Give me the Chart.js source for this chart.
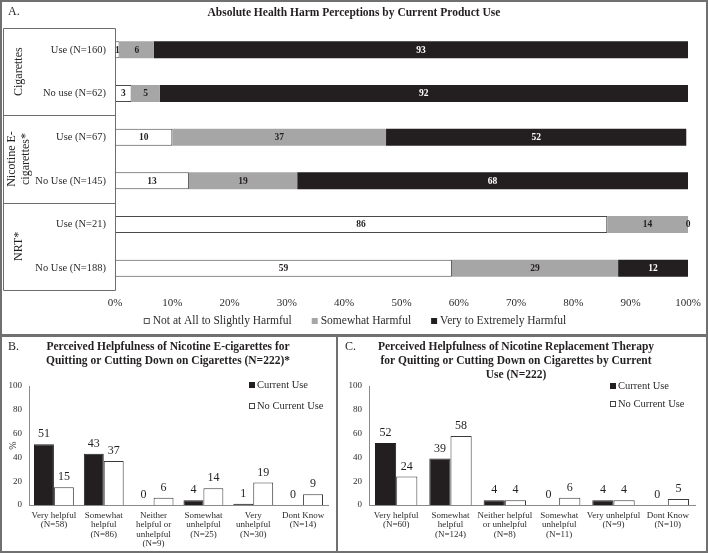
<!DOCTYPE html>
<html><head><meta charset="utf-8">
<script src="https://cdn.jsdelivr.net/npm/chart.js@4/dist/chart.umd.min.js"></script>
<style>
html,body{margin:0;padding:0;background:#fff;}
#wrap{position:relative;width:708px;height:553px;overflow:hidden;background:#fff;}
canvas{position:absolute;}
.frame{position:absolute;box-sizing:border-box;border:2px solid #707070;pointer-events:none;}
</style></head><body>
<div id="wrap">
<canvas id="cA" width="708" height="336" style="left:0;top:0"></canvas>
<canvas id="cB" width="337" height="218" style="left:0;top:335px"></canvas>
<canvas id="cC" width="372" height="218" style="left:336px;top:335px"></canvas>
<div class="frame" style="left:0;top:0;width:708px;height:337px"></div>
<div class="frame" style="left:0;top:334px;width:338px;height:219px"></div>
<div class="frame" style="left:336px;top:334px;width:372px;height:219px"></div>
</div>
<script>
// ---------- Panel A data ----------
const harmTitle = "Absolute Health Harm Perceptions by Current Product Use";
const harmCategories = ["Use (N=160)", "No use (N=62)", "Use (N=67)", "No Use (N=145)", "Use (N=21)", "No Use (N=188)"];
const harmGroups = [["Cigarettes"], ["Nicotine E-", "cigarettes*"], ["NRT*"]];
const harmGroupSpans = [[0, 1], [2, 3], [4, 5]];
const harmSeriesNames = ["Not at All to Slightly Harmful", "Somewhat Harmful", "Very to Extremely Harmful"];
const harmNotAtAll = [0.8, 2.9, 10.0, 12.9, 85.9, 58.8];
const harmSomewhat = [6.0, 4.9, 37.3, 18.9, 14.1, 29.0];
const harmVery = [93.2, 92.2, 52.4, 68.2, 0, 12.2];

// ---------- Panel B data ----------
const ecigTitle = ["Perceived Helpfulness of Nicotine E-cigarettes for", "Quitting or Cutting Down on Cigarettes (N=222)*"];
const ecigCategories = [["Very helpful", "(N=58)"], ["Somewhat", "helpful", "(N=86)"], ["Neither", "helpful or", "unhelpful", "(N=9)"], ["Somewhat", "unhelpful", "(N=25)"], ["Very", "unhelpful", "(N=30)"], ["Dont Know", "(N=14)"]];
const ecigCurrent = [51, 43, 0, 4, 1, 0];
const ecigNoCurrent = [15, 37, 6, 14, 19, 9];

// ---------- Panel C data ----------
const nrtTitle = ["Perceived Helpfulness of Nicotine Replacement Therapy", "for Quitting or Cutting Down on Cigarettes by Current", "Use (N=222)"];
const nrtCategories = [["Very helpful", "(N=60)"], ["Somewhat", "helpful", "(N=124)"], ["Neither helpful", "or unhelpful", "(N=8)"], ["Somewhat", "unhelpful", "(N=11)"], ["Very unhelpful", "(N=9)"], ["Dont Know", "(N=10)"]];
const nrtCurrent = [52, 39, 4, 0, 4, 0];
const nrtNoCurrent = [24, 58, 4, 6, 4, 5];

const useSeriesNames = ["Current Use", "No Current Use"];

const FONT = '"Liberation Serif","Times New Roman",serif';
const INK = '#231f20';
const GRAY = '#a6a6a6';
const TXT = '#2b2b2b';

function txt(ctx, s, x, y, font, color, align, baseline) {
  ctx.font = font; ctx.fillStyle = color;
  ctx.textAlign = align || 'center'; ctx.textBaseline = baseline || 'middle';
  ctx.fillText(s, x, y);
}

// ---------- Panel A ----------
const harmPlugin = {
  id: 'harmDecor',
  afterDraw(chart) {
    const ctx = chart.ctx, a = chart.chartArea, y = chart.scales.y;
    ctx.save();
    txt(ctx, 'A.', 8, 12, '12px ' + FONT, INK, 'left');
    txt(ctx, harmTitle, chart.width / 2, 13, 'bold 11.5px ' + FONT, INK);
    // category box
    ctx.strokeStyle = '#6d6d6d'; ctx.lineWidth = 1;
    const bl = 3.5, top = Math.round(a.top) + 0.5, bot = Math.round(a.bottom) + 0.5, rx = Math.round(a.left) + 0.5;
    ctx.beginPath();
    ctx.moveTo(bl, top); ctx.lineTo(rx, top); ctx.lineTo(rx, bot); ctx.lineTo(bl, bot); ctx.closePath();
    harmGroupSpans.slice(0, -1).forEach(([s, e]) => {
      const yy = Math.round((y.getPixelForValue(e) + y.getPixelForValue(e + 1)) / 2) + 0.5;
      ctx.moveTo(bl, yy); ctx.lineTo(rx, yy);
    });
    ctx.stroke();
    // group labels
    harmGroupSpans.forEach(([s, e], gi) => {
      const cy = (y.getPixelForValue(s) + y.getPixelForValue(e)) / 2;
      const lines = harmGroups[gi];
      ctx.save(); ctx.translate(19, cy); ctx.rotate(-Math.PI / 2);
      lines.forEach((ln, i) => txt(ctx, ln, 0, (i - (lines.length - 1) / 2) * 14, '12px ' + FONT, INK));
      ctx.restore();
    });
    // data labels
    chart.data.datasets.forEach((ds, di) => {
      const meta = chart.getDatasetMeta(di);
      meta.data.forEach((bar, i) => {
        const v = ds.data[i];
        const cx = (bar.x + bar.base) / 2;
        txt(ctx, String(Math.round(v)), cx, bar.y + 0.5, 'bold 9.5px ' + FONT, (di === 2 && v > 0) ? '#fff' : INK);
      });
    });
    // legend
    ctx.font = '11.5px ' + FONT;
    const box = 6, gapT = 3, gapI = 20;
    const widths = chart.data.datasets.map(d => ctx.measureText(d.label).width);
    const total = widths.reduce((s, w) => s + box + gapT + w, 0) + gapI * (widths.length - 1);
    let lx = chart.width / 2 - total / 2 + 1;
    const ly = 321;
    chart.data.datasets.forEach((d, di) => {
      ctx.fillStyle = d.backgroundColor;
      ctx.fillRect(lx, ly - box / 2, box, box);
      ctx.strokeStyle = '#555'; ctx.lineWidth = 1;
      if (di === 0) ctx.strokeRect(lx + 0.5, ly - box / 2 + 0.5, box - 1, box - 1);
      txt(ctx, d.label, lx + box + gapT, ly, '11.5px ' + FONT, TXT, 'left');
      lx += box + gapT + widths[di] + gapI;
    });
    ctx.restore();
  }
};

new Chart(document.getElementById('cA'), {
  type: 'bar',
  data: {
    labels: harmCategories,
    datasets: [
      { label: harmSeriesNames[0], data: harmNotAtAll, backgroundColor: '#ffffff', borderColor: '#4a4a4a', borderWidth: 1, borderSkipped: false },
      { label: harmSeriesNames[1], data: harmSomewhat, backgroundColor: GRAY, borderColor: GRAY, borderWidth: 0 },
      { label: harmSeriesNames[2], data: harmVery, backgroundColor: INK, borderColor: INK, borderWidth: 0 }
    ]
  },
  options: {
    indexAxis: 'y', responsive: false, animation: false,
    barPercentage: 0.39, categoryPercentage: 1,
    layout: { padding: { top: 28, left: 3, right: 20, bottom: 0 } },
    plugins: { legend: { display: false }, tooltip: { enabled: false }, title: { display: false } },
    scales: {
      x: {
        stacked: true, min: 0, max: 100,
        grid: { display: false, drawTicks: false }, border: { display: false },
        ticks: { stepSize: 10, callback: v => v + '%', font: { family: FONT, size: 11 }, color: TXT, padding: 7, maxRotation: 0 },
        afterFit: s => { s.height = 46; }
      },
      y: {
        stacked: true,
        grid: { display: false, drawTicks: false }, border: { display: false },
        ticks: { font: { family: FONT, size: 10.5 }, color: TXT, padding: 9 },
        afterFit: s => { s.width = 112; }
      }
    }
  },
  plugins: [harmPlugin]
});

// ---------- Panels B and C ----------
function usePlugin(cfg) {
  return {
    id: 'useDecor',
    afterDraw(chart) {
      const ctx = chart.ctx, a = chart.chartArea;
      ctx.save();
      txt(ctx, cfg.letter, cfg.letterX, 12, '12px ' + FONT, INK, 'left');
      cfg.title.forEach((ln, i) => txt(ctx, ln, cfg.titleX, 12 + i * 14, 'bold 11.5px ' + FONT, INK));
      if (cfg.yTitle) {
        ctx.save(); ctx.translate(13, (a.top + a.bottom) / 2); ctx.rotate(-Math.PI / 2);
        txt(ctx, cfg.yTitle, 0, 0, '10px ' + FONT, TXT);
        ctx.restore();
      }
      // value labels
      chart.data.datasets.forEach((ds, di) => {
        chart.getDatasetMeta(di).data.forEach((bar, i) => {
          txt(ctx, String(ds.data[i]), bar.x, bar.y - 4, '12px ' + FONT, INK, 'center', 'bottom');
        });
      });
      // legend
      chart.data.datasets.forEach((d, di) => {
        const ly = cfg.legendY[di];
        ctx.fillStyle = d.backgroundColor;
        ctx.fillRect(cfg.legendX, ly - 3, 6, 6);
        if (di === 1) { ctx.strokeStyle = '#444'; ctx.lineWidth = 1; ctx.strokeRect(cfg.legendX + 0.5, ly - 2.5, 5, 5); }
        txt(ctx, d.label, cfg.legendX + 8, ly, '10.5px ' + FONT, TXT, 'left');
      });
      ctx.restore();
    }
  };
}

function useChart(id, cats, cur, noCur, cfg) {
  new Chart(document.getElementById(id), {
    type: 'bar',
    data: {
      labels: cats,
      datasets: [
        { label: useSeriesNames[0], data: cur, backgroundColor: INK, borderColor: INK, borderWidth: 1 },
        { label: useSeriesNames[1], data: noCur, backgroundColor: '#ffffff', borderColor: '#3a3a3a', borderWidth: 1 }
      ]
    },
    options: {
      responsive: false, animation: false,
      barPercentage: 1, categoryPercentage: cfg.catPct,
      layout: { padding: { top: 51, left: 0, right: cfg.padRight, bottom: 0 } },
      plugins: { legend: { display: false }, tooltip: { enabled: false }, title: { display: false } },
      scales: {
        x: {
          grid: { display: false, drawTicks: false }, border: { display: true, color: '#8a8a8a', width: 1 },
          ticks: { autoSkip: false, maxRotation: 0, font: { family: FONT, size: 9, lineHeight: 1.03 }, color: TXT, padding: 6 },
          afterFit: s => { s.height = 48; }
        },
        y: {
          min: 0, max: 100,
          grid: { display: false, drawTicks: false }, border: { display: true, color: '#8a8a8a', width: 1 },
          ticks: { stepSize: 20, font: { family: FONT, size: 9 }, color: TXT, padding: 7 },
          afterFit: s => { s.width = cfg.axisW; }
        }
      }
    },
    plugins: [usePlugin(cfg)]
  });
}

useChart('cB', ecigCategories, ecigCurrent, ecigNoCurrent, {
  letter: 'B.', letterX: 8, title: ecigTitle, titleX: 168, yTitle: '%',
  legendX: 249, legendY: [50, 71], catPct: 0.8, padRight: 9, axisW: 29
});
useChart('cC', nrtCategories, nrtCurrent, nrtNoCurrent, {
  letter: 'C.', letterX: 9, title: nrtTitle, titleX: 180, yTitle: null,
  legendX: 274, legendY: [51, 69], catPct: 0.78, padRight: 13, axisW: 33
});
</script>
</body></html>
